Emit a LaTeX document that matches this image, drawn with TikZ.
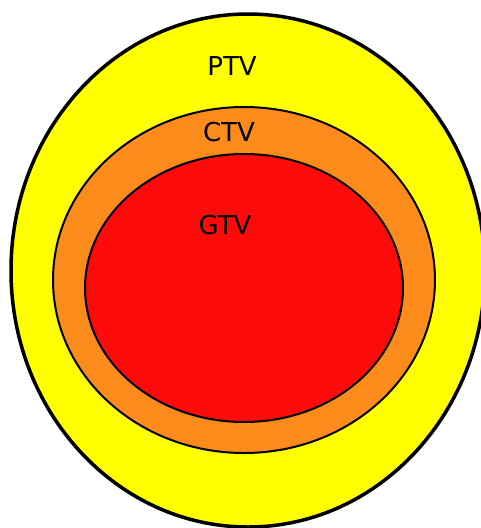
\documentclass[tikz,border=0pt]{standalone}
\usepackage{fontspec}
\setmainfont{DejaVu Sans}
\usepackage{xcolor}
\usepackage{tikz}
\definecolor{ptvyellow}{HTML}{FFFF00}
\definecolor{ctvorange}{HTML}{FB8C1C}
\definecolor{gtvred}{HTML}{FD0B0B}

\begin{document}
\begin{tikzpicture}[x=1pt, y=-1pt,
    vol/.style={draw=black, line width=2pt},
    lbl/.style={font=\fontsize{26}{31}\selectfont, text=black, inner sep=0pt},
]
\useasboundingbox (0, 0) rectangle (480, 528);
\draw[vol, line width=3.5pt, fill=ptvyellow] (248, 270.5) ellipse [x radius=237, y radius=256.5];
\draw[vol, fill=ctvorange] (244, 280) ellipse [x radius=191, y radius=173];
\draw[vol, fill=gtvred] (244, 288) ellipse [x radius=159, y radius=134];
\node[lbl] (ptv) at (232, 66) {PTV};
\node[lbl] (ctv) at (229, 132) {CTV};
\node[lbl] (gtv) at (225, 225) {GTV};
\end{tikzpicture}
\end{document}
